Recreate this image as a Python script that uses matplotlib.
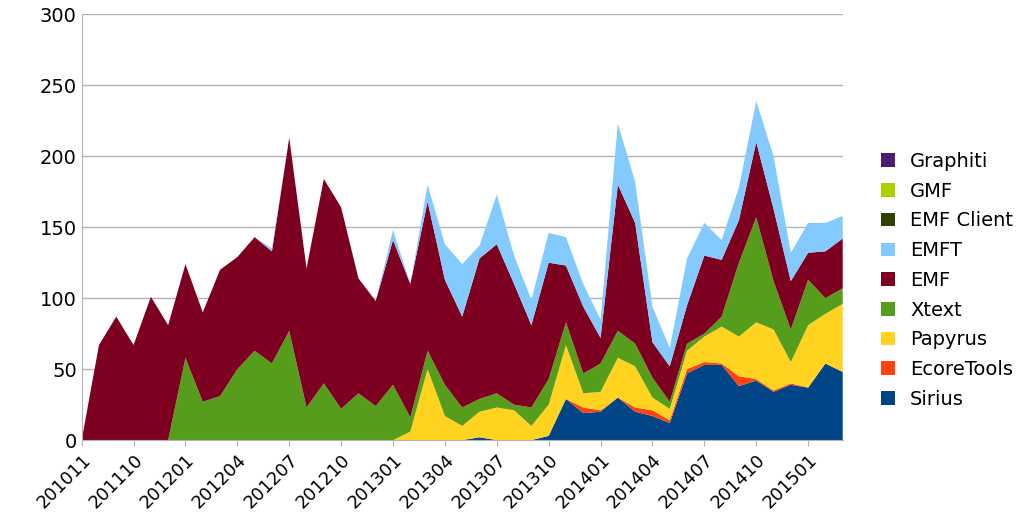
import matplotlib
matplotlib.use("Agg")
import matplotlib.pyplot as plt
import numpy as np

months = ["201011", "201012", "201104"]
for y in range(2011, 2016):
    for m in range(1, 13):
        if (y == 2011 and m < 10) or (y == 2015 and m > 3):
            continue
        months.append(f"{y}{m:02d}")

def pad(d):
    a = [0]*45
    for k, v in d.items():
        a[k] = v
    return a

sirius = [0]*23 + [2,0,0,0,3,29,19,20,30,20,17,12,47,53,53,38,42,34,39,37,54,48]
ecoretools = pad({29:4,30:1,32:3,33:4,34:2,35:3,36:2,37:1,38:7,39:1,40:1,41:1})
papyrus = pad({19:6,20:50,21:17,22:10,23:18,24:23,25:21,26:10,27:22,28:38,29:10,30:13,31:28,32:29,
               33:9,34:8,35:13,36:18,37:26,38:28,39:40,40:43,41:15,42:44,43:35,44:48})
xtext = pad({6:58,7:27,8:31,9:50,10:63,11:54,12:77,13:23,14:40,15:22,16:33,17:24,18:39,19:10,20:13,
             21:22,22:13,23:9,24:10,25:4,26:13,27:18,28:16,29:14,30:20,31:19,32:16,33:14,34:5,35:5,
             36:2,37:7,38:52,39:74,40:34,41:23,42:32,43:11,44:11})
emf = [0,67,87,67,101,81,66,63,89,79,80,79,136,98,144,142,81,74,102,94,105,74,64,99,105,85,58,82,
       40,47,18,103,85,25,25,27,55,40,30,53,51,34,19,33,35]
emft = pad({11:2,18:7,20:12,21:25,22:37,23:9,24:35,25:20,26:18,27:21,28:20,29:16,30:13,31:43,32:29,
            33:25,34:13,35:33,36:23,37:14,38:23,39:29,40:37,41:20,42:21,43:20,44:16})
emf_client = [0]*45
gmf = [0]*45
graphiti = [0]*45

names = ["Sirius","EcoreTools","Papyrus","Xtext","EMF","EMFT","EMF Client","GMF","Graphiti"]
series = [sirius, ecoretools, papyrus, xtext, emf, emft, emf_client, gmf, graphiti]
colors = ["#004586","#ff420e","#ffd320","#579d1c","#7e0021","#83caff","#314004","#aecf00","#4b1f6f"]

fig = plt.figure(figsize=(10.34, 5.29), dpi=100)
ax = fig.add_axes([0.079, 0.168, 0.736, 0.805])
x = np.arange(len(months))
polys = ax.stackplot(x, *series, colors=colors, labels=names, linewidth=0)
ax.set_xlim(0, len(months)-1)
ax.set_ylim(0, 300)
ax.set_yticks(range(0, 301, 50))
ax.yaxis.grid(True, color="#b3b3b3", linewidth=1)
ax.set_axisbelow(True)
ax.set_xticks(x[::3])
ax.set_xticklabels(months[::3], rotation=45, ha="right", rotation_mode="anchor", fontsize=13)
ax.tick_params(axis="y", labelsize=14, length=0)
ax.tick_params(axis="x", length=4, color="#b3b3b3")
for s in ["top", "right"]:
    ax.spines[s].set_visible(False)
for s in ["left", "bottom"]:
    ax.spines[s].set_color("#b3b3b3")
h, l = ax.get_legend_handles_labels()
fig.legend(h[::-1], l[::-1], loc="center left", bbox_to_anchor=(0.835, 0.47), frameon=False,
           fontsize=14, handlelength=0.7, handleheight=0.7, labelspacing=0.55)
fig.savefig("out.png", dpi=100)
